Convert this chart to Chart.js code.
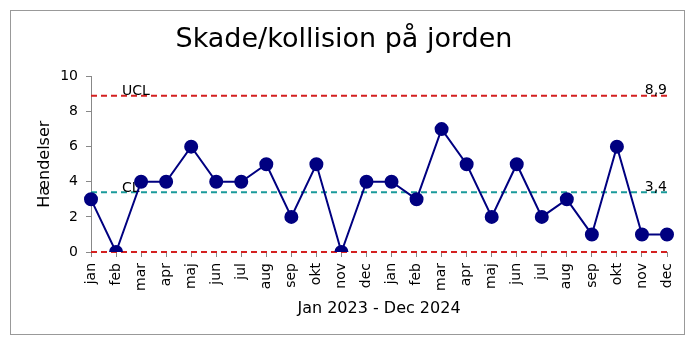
<!DOCTYPE html>
<html>
<head>
<meta charset="utf-8">
<script src="https://cdn.jsdelivr.net/npm/chart.js@4/dist/chart.umd.min.js"></script>
<style>
    body { margin: 0; background: #fff; }
    #wrap {
        position: absolute; left: 10px; top: 10px;
        width: 675px; height: 325px;
        box-sizing: border-box; border: 1px solid #999;
    }
    canvas { display: block; }
</style>
</head>
<body>
<div id="wrap"><canvas id="myChart" width="673" height="323"></canvas></div>
<script>
    // data
    const months = ['jan', 'feb', 'mar', 'apr', 'maj', 'jun', 'jul', 'aug', 'sep', 'okt', 'nov', 'dec',
        'jan', 'feb', 'mar', 'apr', 'maj', 'jun', 'jul', 'aug', 'sep', 'okt', 'nov', 'dec'];
    const events = [3, 0, 4, 4, 6, 4, 4, 5, 2, 5, 0, 4, 4, 3, 7, 5, 2, 5, 2, 3, 1, 6, 1, 1];
    const ucl = 8.9;
    const cl = 3.4;
    const lcl = 0;
    const yTicks = [0, 2, 4, 6, 8, 10];

    const FONT = 'DejaVu Sans';

    // control lines + labels
    const controlLines = {
        id: 'controlLines',
        beforeDatasetsDraw(chart) {
            const ctx = chart.ctx;
            const area = chart.chartArea;
            const y = chart.scales.y;
            const lines = [
                { v: ucl, color: '#d42020', name: 'UCL' },
                { v: cl, color: '#1a9a9a', name: 'CL' },
                { v: lcl, color: '#d42020', name: '' }
            ];
            ctx.save();
            lines.forEach(function (l) {
                const py = y.getPixelForValue(l.v);
                ctx.beginPath();
                ctx.setLineDash([6, 4]);
                ctx.lineWidth = 2;
                ctx.strokeStyle = l.color;
                ctx.moveTo(area.left, py);
                ctx.lineTo(area.right, py);
                ctx.stroke();
                if (l.name) {
                    ctx.setLineDash([]);
                    ctx.fillStyle = '#000';
                    ctx.font = '14px "' + FONT + '"';
                    ctx.textBaseline = 'bottom';
                    ctx.textAlign = 'left';
                    ctx.fillText(l.name, area.left + 31, py + 3);
                    ctx.textAlign = 'right';
                    ctx.fillText(l.v.toFixed(1).replace('.', ','), area.right, py + 2);
                }
            });
            ctx.restore();
        }
    };

    const chartCanvas = document.getElementById('myChart');

    const chartConfig = {
        type: 'line',
        data: {
            labels: months,
            datasets: [{
                data: events,
                borderColor: '#000080',
                backgroundColor: '#000080',
                borderWidth: 2,
                pointRadius: 6,
                pointHoverRadius: 6,
                tension: 0
            }]
        },
        options: {
            responsive: false,
            animation: false,
            events: [],
            layout: { padding: { left: 10, right: 17, top: 0, bottom: 16 } },
            plugins: {
                legend: { display: false },
                tooltip: { enabled: false },
                title: {
                    display: true,
                    text: 'Skade/kollision på jorden',
                    color: '#000',
                    font: { family: FONT, size: 27, weight: 'normal' },
                    padding: { top: 13, bottom: 20 }
                }
            },
            scales: {
                x: {
                    offset: false,
                    grid: { display: true, drawOnChartArea: false, drawTicks: true, tickLength: 5, color: '#888' },
                    border: { display: false },
                    ticks: {
                        color: '#000', maxRotation: 90, minRotation: 90, autoSkip: false,
                        font: { family: FONT, size: 14 }, padding: 6
                    },
                    title: {
                        display: true, text: 'Jan 2023 - Dec 2024', color: '#000',
                        font: { family: FONT, size: 16 }, padding: { top: 4, bottom: 0 }
                    },
                    afterFit(scale) {
                        scale.height = 66;
                        scale.paddingLeft = 0;
                        scale.paddingRight = 0;
                    }
                },
                y: {
                    min: 0, max: 10,
                    afterBuildTicks(scale) { scale.ticks = yTicks.map(function (v) { return { value: v }; }); },
                    grid: { display: true, drawOnChartArea: false, drawTicks: true, tickLength: 5, color: '#888' },
                    border: { display: true, color: '#888', width: 1 },
                    ticks: { color: '#000', font: { family: FONT, size: 14 }, padding: 8 },
                    title: {
                        display: true, text: 'Hændelser', color: '#000',
                        font: { family: FONT, size: 16 }, padding: { top: 14, bottom: 4 }
                    },
                    afterFit(scale) { scale.width = 70; }
                }
            }
        },
        plugins: [controlLines]
    };

    const myChart = new Chart(chartCanvas, chartConfig);
</script>
</body>
</html>
